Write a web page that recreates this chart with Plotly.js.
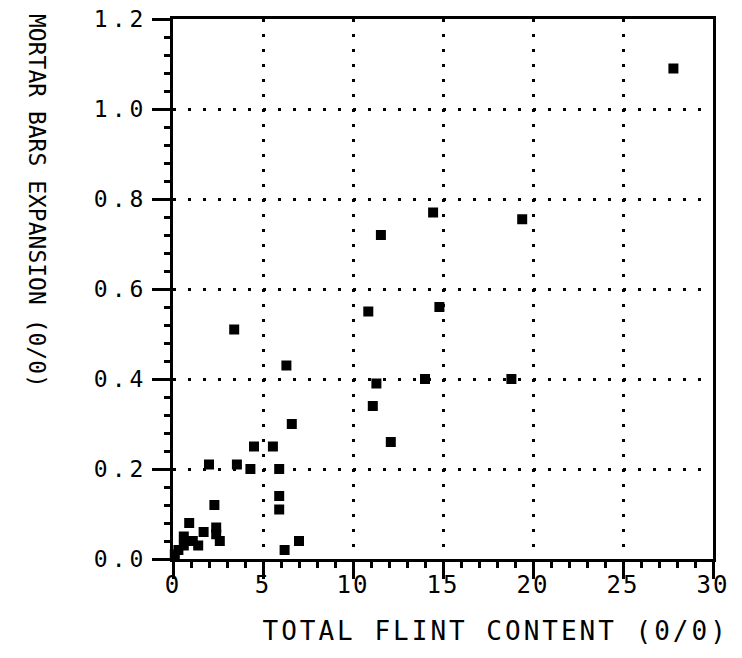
<!DOCTYPE html>
<html>
<head>
<meta charset="utf-8">
<script src="https://cdn.plot.ly/plotly-3.0.1.min.js"></script>
<style>
html, body { margin: 0; padding: 0; background: #fff; }
#chart { width: 742px; height: 658px; }
.xtick text { letter-spacing: 2px; }
.ytick text { letter-spacing: 4px; }
.annotation[data-index="0"] .annotation-text { letter-spacing: 3px; }
</style>
</head>
<body>
<div id="chart"></div>
<script>
// Total flint content (%) and mortar bar expansion (%)
const flintContent = [0.1, 0.3, 0.6, 0.6, 0.9, 1.1, 1.4, 1.7, 2.0, 2.3, 2.4, 2.4, 2.6,
  3.4, 3.55, 4.3, 4.5, 5.55, 5.9, 5.9, 5.9, 6.2, 6.3, 6.6, 7.0,
  10.85, 11.1, 11.3, 11.55, 12.1, 14.0, 14.45, 14.8, 18.8, 19.4, 27.8];
const expansion = [0.01, 0.02, 0.03, 0.05, 0.08, 0.04, 0.03, 0.06, 0.21, 0.12, 0.07, 0.055, 0.04,
  0.51, 0.21, 0.20, 0.25, 0.25, 0.20, 0.14, 0.11, 0.02, 0.43, 0.30, 0.04,
  0.55, 0.34, 0.39, 0.72, 0.26, 0.40, 0.77, 0.56, 0.40, 0.755, 1.09];

const xTitle = "TOTAL FLINT CONTENT (0/0)";
const yTitle = "MORTAR BARS EXPANSION (0/0)";

const FONT = "DejaVu Sans Mono, monospace";

// transparent copies of the data that carry the grid/frame and minor-tick overlay axes
function carrier(xa, ya) {
  return { type: "scatter", mode: "markers", x: flintContent, y: expansion,
    xaxis: xa, yaxis: ya, marker: { size: 1, opacity: 0 }, hoverinfo: "skip" };
}

const trace = {
  type: "scatter",
  mode: "markers",
  x: flintContent,
  y: expansion,
  cliponaxis: false,
  marker: { symbol: "square", size: 10, color: "#000" },
  hoverinfo: "x+y"
};

const layout = {
  width: 742,
  height: 658,
  margin: { l: 173, r: 29, t: 19, b: 99 },
  paper_bgcolor: "#fff",
  plot_bgcolor: "#fff",
  showlegend: false,
  font: { family: FONT, color: "#000" },
  xaxis: {
    range: [0, 30],
    dtick: 5,
    ticks: "outside",
    ticklen: 17,
    tickwidth: 3,
    tickcolor: "#000",
    ticklabelstandoff: -15,
    showline: true,
    linewidth: 3,
    linecolor: "#000",
    zeroline: false,
    showgrid: false,
    tickfont: { family: FONT, size: 24, color: "#000" },
    fixedrange: true
  },
  yaxis: {
    range: [0, 1.2],
    dtick: 0.2,
    tickformat: ".1f",
    ticks: "outside",
    ticklen: 18,
    tickwidth: 3,
    tickcolor: "#000",
    showline: true,
    linewidth: 3,
    linecolor: "#000",
    zeroline: false,
    showgrid: false,
    tickfont: { family: FONT, size: 23, color: "#000" },
    fixedrange: true
  },
  // minor ticks
  xaxis2: {
    overlaying: "x", anchor: "y2", side: "bottom",
    range: [0, 30], dtick: 1,
    ticks: "outside", ticklen: 8, tickwidth: 2.5, tickcolor: "#000",
    showticklabels: false, showgrid: false, showline: false, zeroline: false,
    fixedrange: true
  },
  yaxis2: {
    overlaying: "y", anchor: "x2", side: "left",
    range: [0, 1.2], dtick: 0.04,
    ticks: "outside", ticklen: 8, tickwidth: 2.5, tickcolor: "#000",
    showticklabels: false, showgrid: false, showline: false, zeroline: false,
    fixedrange: true
  },
  // dotted grid plus top and right frame lines
  xaxis3: {
    overlaying: "x", anchor: "y3", side: "top",
    range: [0, 30], dtick: 5,
    ticks: "", showticklabels: false, zeroline: false,
    showline: true, linewidth: 3, linecolor: "#000",
    showgrid: true, gridcolor: "#000", gridwidth: 2.5, griddash: "3px,12px",
    fixedrange: true
  },
  yaxis3: {
    overlaying: "y", anchor: "x3", side: "right",
    range: [0, 1.2], dtick: 0.2,
    ticks: "", showticklabels: false, zeroline: false,
    showline: true, linewidth: 3, linecolor: "#000",
    showgrid: true, gridcolor: "#000", gridwidth: 2.5, griddash: "3px,12px",
    fixedrange: true
  },
  annotations: [
    {
      text: xTitle,
      xref: "paper", yref: "paper",
      x: (495 - 173) / 540, y: -(631 - 559) / 540,
      xanchor: "center", yanchor: "middle",
      showarrow: false,
      font: { family: FONT, size: 26, color: "#000" }
    },
    {
      text: yTitle,
      xref: "paper", yref: "paper",
      x: -(173 - 37) / 540, y: (559 - 201) / 540,
      xanchor: "center", yanchor: "middle",
      textangle: 90,
      showarrow: false,
      font: { family: FONT, size: 23, color: "#000" }
    }
  ]
};

Plotly.newPlot("chart", [carrier("x3", "y3"), carrier("x2", "y2"), trace], layout, { displayModeBar: false });
</script>
</body>
</html>
